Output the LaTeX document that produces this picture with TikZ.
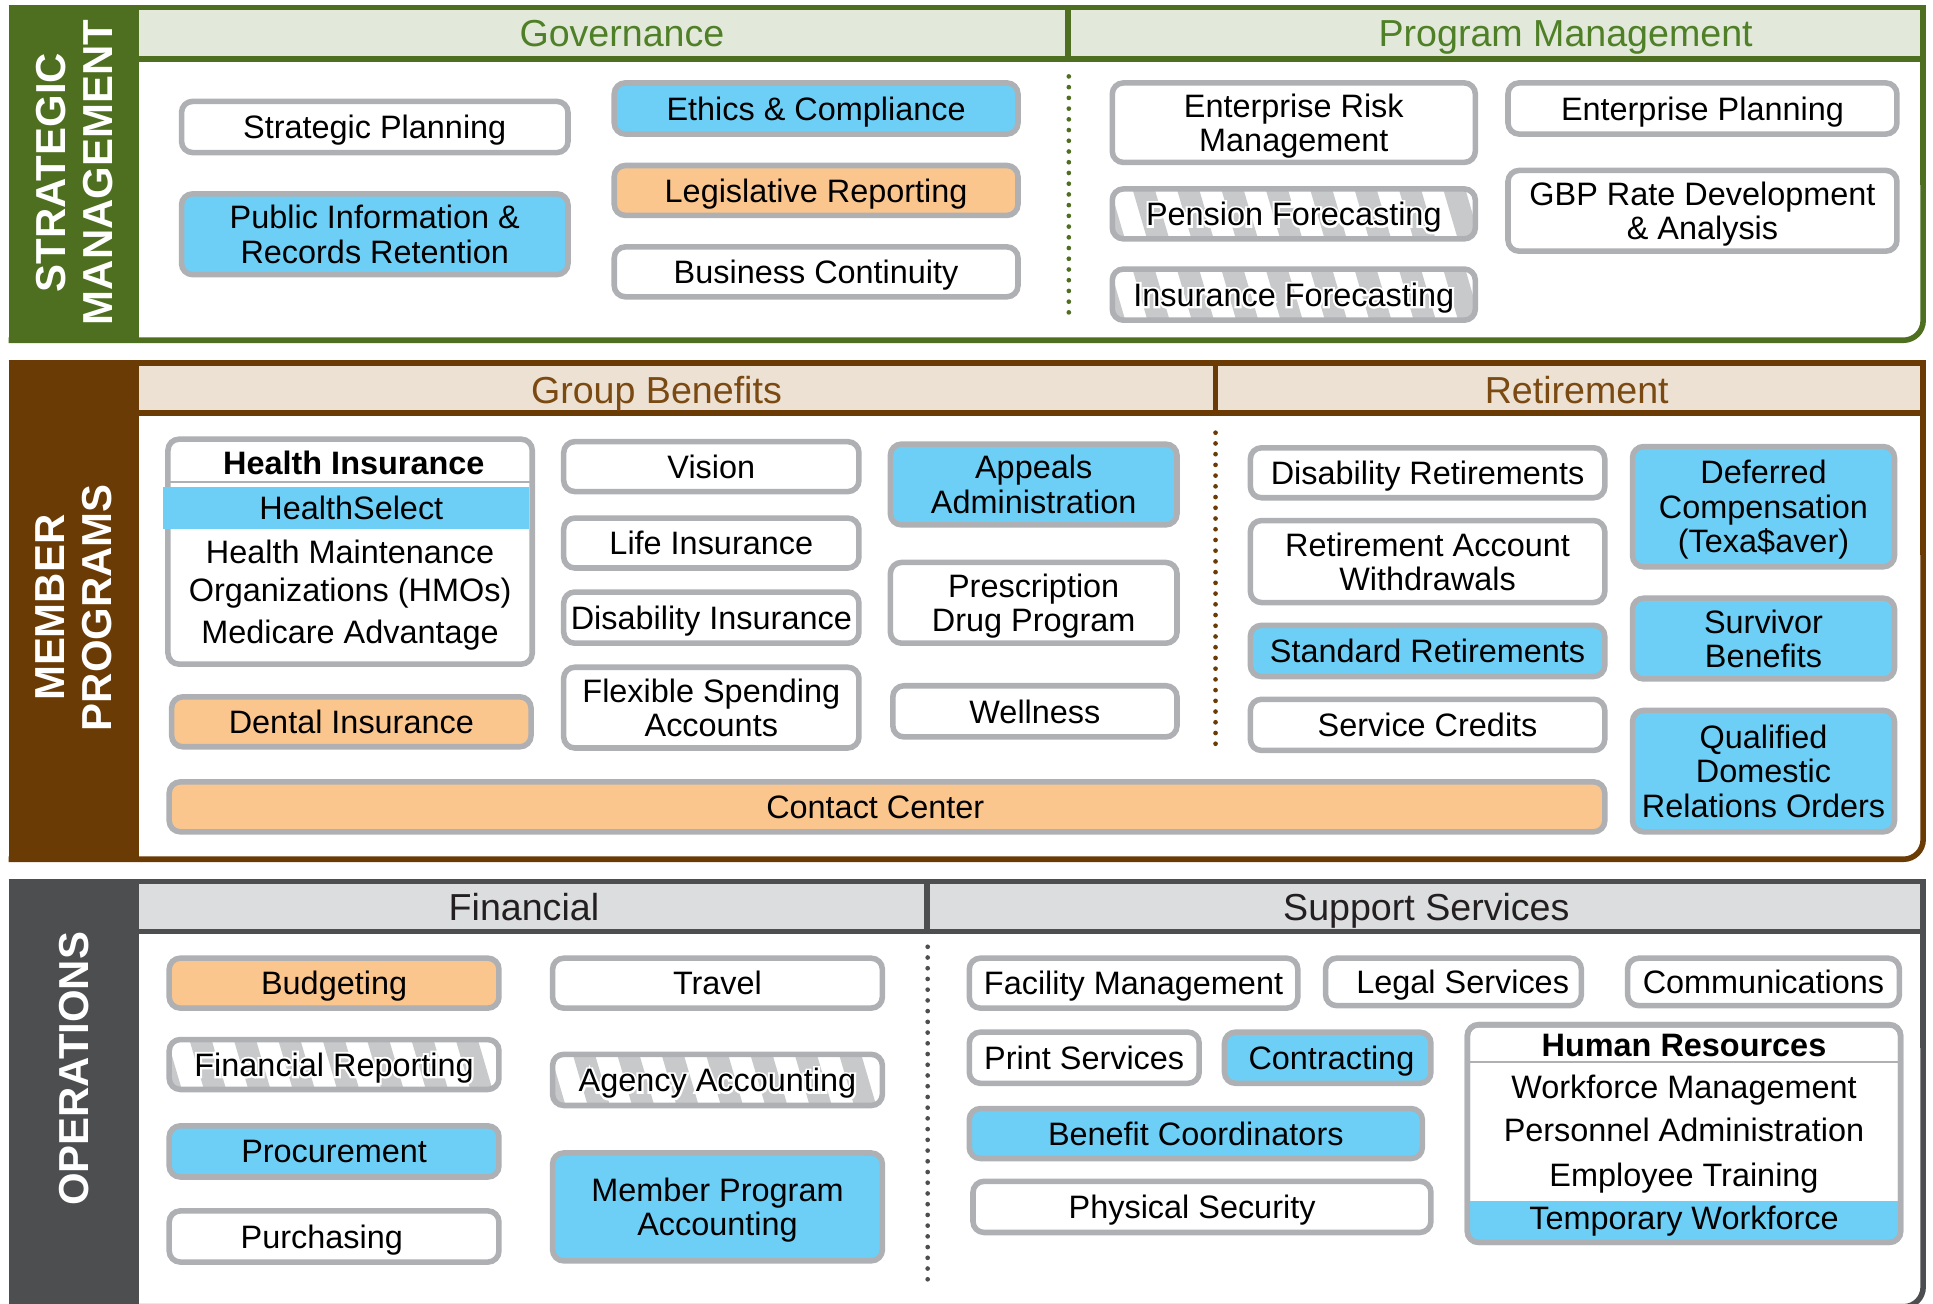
\documentclass[tikz,border=0pt]{standalone}
\usepackage{fontspec}
\setmainfont{Liberation Sans}
% stroked white face used as an outline behind striped-box text
\newfontfamily\halofamily[FakeBold=13]{Liberation Sans}

\definecolor{smgreen}{HTML}{4E6F1F}
\definecolor{smhead}{HTML}{E2E9DA}
\definecolor{smtext}{HTML}{4F7F26}
\definecolor{mpbrown}{HTML}{6B3B06}
\definecolor{mphead}{HTML}{EDE1D3}
\definecolor{mptext}{HTML}{7A4A12}
\definecolor{opgray}{HTML}{4D4E50}
\definecolor{ophead}{HTML}{DCDDDF}
\definecolor{optext}{HTML}{231F20}
\definecolor{boxline}{HTML}{AEB0B3}
\definecolor{cblue}{HTML}{6DCFF6}
\definecolor{corange}{HTML}{FBC68E}
\definecolor{hatchgray}{HTML}{C8C9CB}

\newcommand\boxfont{\fontsize{26.3pt}{28pt}\selectfont}
\newcommand\headfont{\fontsize{30.5pt}{34pt}\selectfont}
\newcommand\sidefont{\fontsize{34pt}{38pt}\selectfont\bfseries}

% centred lines separated by \cr
\newcommand\mlines[1]{\vbox{\halign{\hfil##\hfil\cr#1\crcr}}}

% text with a white outline, for the striped boxes
\newcommand\halotext[1]{{\setbox0\hbox{#1}%
  \rlap{\color{white}\halofamily #1}%
  \box0}}

% name, style, left, top, right, bottom, text
\newcommand\orgbox[7]{\node[#2, minimum width={#5-#3-4.5}, minimum height={#6-#4-4.5}]
  (#1) at ({(#3+#5)/2},{(#4+#6)/2}) {#7};}

\begin{document}
\begin{tikzpicture}[x=1pt,y=-1pt,
  box/.style={draw=boxline, line width=4.5pt, rounded corners=9pt, inner sep=0pt,
    outer sep=0pt, text depth=0pt, font=\boxfont, fill=white},
  bluebox/.style={box, fill=cblue},
  orangebox/.style={box, fill=corange},
  hatchbox/.style={box, path picture={
    \foreach \k in {0,...,11}{
      \fill[hatchgray, sharp corners]
        ([xshift=\k*36pt-22pt, yshift=8pt]path picture bounding box.north west)
        -- ++(18,0) -- ++(22,75) -- ++(-18,0) -- cycle;}}},
  plain/.style={inner sep=0pt, outer sep=0pt, text depth=0pt},
  sidelabel/.style={plain, rotate=90, text=white, font=\sidefont},
  headlabel/.style={plain, font=\headfont},
  sepline/.style={boxline, line width=1.3pt},
  dots/.style={line width=3.8pt, line cap=round, dash pattern=on 0pt off 8.7pt},
  rule/.style={line width=4.5pt},
]
\useasboundingbox (0,0) rectangle (1568,1057);
\clip (0,0) rectangle (1568,1057);
\fill[white] (0,0) rectangle (1568,1057);

% ---------------- Strategic management ----------------
\fill[smhead] (113,6) rectangle (1560,48);
\draw[smgreen, rule] (113,48) -- (1560,48);
\draw[smgreen, rule] (866.5,6) -- (866.5,48);
\draw[smgreen, rule] (7,6) -- (1560,6) -- (1560,150);
\draw[smgreen, rule, rounded corners=16pt] (1560,140) -- (1560,276) -- (7,276);
\fill[smgreen] (7,4) rectangle (113,278);
\node[sidelabel] (smlabel) at (60,140) {\mlines{STRATEGIC\cr MANAGEMENT}};
\node[headlabel, text=smtext] (gov) at (504.5,27) {Governance};
\node[headlabel, text=smtext] (pm) at (1270,27) {Program Management};
\draw[smgreen, dots] (867,62) -- (867,262);

\orgbox{sp}{box}{145}{80}{463}{126}{Strategic Planning}
\orgbox{pir}{bluebox}{145}{155}{463}{225}{\mlines{Public Information \&\cr Records Retention}}
\orgbox{ec}{bluebox}{496}{65}{828}{111}{Ethics \& Compliance}
\orgbox{lr}{orangebox}{496}{132}{828}{177}{Legislative Reporting}
\orgbox{bcont}{box}{496}{198}{828}{243}{Business Continuity}
\orgbox{erm}{box}{900}{65}{1199}{134}{\mlines{Enterprise Risk\cr Management}}
\orgbox{pf}{hatchbox}{900}{151}{1199}{196}{\halotext{Pension Forecasting}}
\orgbox{inf}{hatchbox}{900}{216}{1199}{262}{\halotext{Insurance Forecasting}}
\orgbox{ep}{box}{1221}{65}{1541}{111}{Enterprise Planning}
\orgbox{gbp}{box}{1221}{136}{1541}{206}{\mlines{GBP Rate Development\cr \& Analysis}}

% ---------------- Member programs ----------------
\fill[mphead] (113,294.5) rectangle (1560,335);
\draw[mpbrown, rule] (113,335) -- (1560,335);
\draw[mpbrown, rule] (986,294.5) -- (986,335);
\draw[mpbrown, rule] (7,294.5) -- (1560,294.5) -- (1560,450);
\draw[mpbrown, rule, rounded corners=16pt] (1560,440) -- (1560,697) -- (7,697);
\fill[mpbrown] (7,292.5) rectangle (113,699);
\node[sidelabel] (mplabel) at (60,493) {\mlines{MEMBER\cr PROGRAMS}};
\node[headlabel, text=mptext] (gb) at (532.5,316) {Group Benefits};
\node[headlabel, text=mptext] (ret) at (1279,316) {Retirement};
\draw[mpbrown, dots] (986,351) -- (986,611);

\orgbox{hi}{box}{134}{354}{434}{541}{}
\draw[sepline] (136,391) -- (432,391);
\fill[cblue] (132,395) rectangle (429.5,429);
\node[plain, font=\boxfont\bfseries] (hihead) at (287,375) {Health Insurance};
\node[plain, font=\boxfont] (hs) at (285,412) {HealthSelect};
\node[plain, font=\boxfont] (hmo1) at (284,447.5) {Health Maintenance};
\node[plain, font=\boxfont] (hmo2) at (284,478.5) {Organizations (HMOs)};
\node[plain, font=\boxfont] (ma) at (284,512.5) {Medicare Advantage};
\orgbox{dental}{orangebox}{137}{563}{433}{608}{Dental Insurance}
\orgbox{vision}{box}{455}{356}{699}{401}{Vision}
\orgbox{life}{box}{455}{418}{699}{463}{Life Insurance}
\orgbox{disins}{box}{455}{478}{699}{524}{Disability Insurance}
\orgbox{fsa}{box}{455}{539}{699}{609}{\mlines{Flexible Spending\cr Accounts}}
\orgbox{appeals}{bluebox}{720}{358}{957}{428}{\mlines{Appeals\cr Administration}}
\orgbox{rx}{box}{720}{454}{957}{524}{\mlines{Prescription\cr Drug Program}}
\orgbox{well}{box}{722}{554}{957}{600}{Wellness}
\orgbox{cc}{orangebox}{135}{632}{1304}{677}{\kern-19pt Contact Center}
\orgbox{dr}{box}{1012}{361}{1304}{406}{Disability Retirements}
\orgbox{raw}{box}{1012}{420}{1304}{491}{\mlines{Retirement Account\cr Withdrawals}}
\orgbox{sr}{bluebox}{1012}{505}{1304}{551}{Standard Retirements}
\orgbox{sc}{box}{1012}{565}{1304}{611}{Service Credits}
\orgbox{dc}{bluebox}{1322}{360}{1539}{462}{\mlines{Deferred\cr Compensation\cr (Texa\$aver)}}
\orgbox{sb}{bluebox}{1322}{483}{1539}{553}{\mlines{Survivor\cr Benefits}}
\orgbox{qdro}{bluebox}{1322}{574}{1539}{677}{\mlines{Qualified\cr Domestic\cr Relations Orders}}

% ---------------- Operations ----------------
\fill[ophead] (113,715) rectangle (1560,755.5);
\draw[opgray, rule] (113,755.5) -- (1560,755.5);
\draw[opgray, rule] (752,715) -- (752,755.5);
\draw[opgray, rule] (7,715) -- (1560,715) -- (1560,850);
\draw[opgray, rule, rounded corners=16pt] (1560,840) -- (1560,1060) -- (7,1060);
\fill[opgray] (7,713) rectangle (113,1062);
\node[sidelabel] (oplabel) at (60,867) {OPERATIONS};
\node[headlabel, text=optext] (fin) at (425,736) {Financial};
\node[headlabel, text=optext] (ss) at (1157,736) {Support Services};
\draw[opgray, dots] (752.5,768) -- (752.5,1041);

\orgbox{bud}{orangebox}{135}{775}{407}{820}{Budgeting}
\orgbox{fr}{hatchbox}{135}{841}{407}{886}{\halotext{Financial Reporting}}
\orgbox{proc}{bluebox}{135}{911}{407}{957}{Procurement}
\orgbox{purch}{box}{135}{980}{407}{1026}{\kern-20pt Purchasing}
\orgbox{travel}{box}{446}{775}{718}{820}{Travel}
\orgbox{aa}{hatchbox}{446}{853}{718}{899}{\halotext{Agency Accounting}}
\orgbox{mpa}{bluebox}{446}{933}{718}{1025}{\mlines{Member Program\cr Accounting}}
\orgbox{fm}{box}{784}{775}{1055}{820}{Facility Management}
\orgbox{ls}{box}{1073}{775}{1285}{818}{\kern15pt Legal Services}
\orgbox{comm}{box}{1318}{775}{1543}{818}{Communications}
\orgbox{ps}{box}{784}{835}{975}{881}{Print Services}
\orgbox{con}{bluebox}{991}{835}{1163}{881}{\kern6pt Contracting}
\orgbox{bco}{bluebox}{784}{897}{1156}{942}{Benefit Coordinators}
\orgbox{phys}{box}{787}{956}{1163}{1002}{\kern-16pt Physical Security}

\orgbox{hr}{box}{1188}{829}{1544}{1010}{}
\draw[sepline] (1190,861.5) -- (1542,861.5);
\begin{scope}
  \clip[rounded corners=9pt] (hr.north west) rectangle (hr.south east);
  \fill[cblue] (1180,974) rectangle (1560,1020);
\end{scope}
\draw[boxline, line width=4.5pt, rounded corners=9pt] (hr.north west) rectangle (hr.south east);
\node[plain, font=\boxfont\bfseries] (hrhead) at (1366,848) {Human Resources};
\node[plain, font=\boxfont] (wm) at (1366,881.5) {Workforce Management};
\node[plain, font=\boxfont] (pa) at (1366,916.5) {Personnel Administration};
\node[plain, font=\boxfont] (et) at (1366,953) {Employee Training};
\node[plain, font=\boxfont] (tw) at (1366,988) {Temporary Workforce};
\end{tikzpicture}
\end{document}
